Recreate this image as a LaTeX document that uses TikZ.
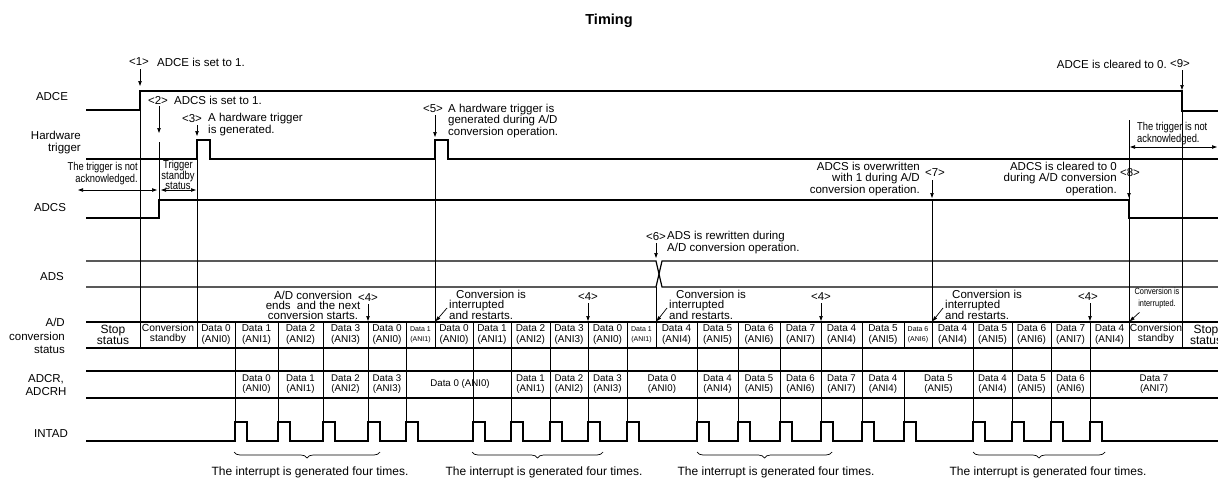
\documentclass[tikz,border=0pt]{standalone}
\usepackage{fontspec}
\setmainfont{Liberation Sans}
\newfontfamily\condfont[FakeStretch=0.82]{Liberation Sans}
\usetikzlibrary{arrows.meta,decorations.pathreplacing}
\newcommand{\tsize}[2]{\fontsize{#1}{#2}\selectfont}

\begin{document}
\begin{tikzpicture}[x=1pt,y=-1pt,
    >={Triangle[length=5pt,width=3.4pt]},
    wave/.style={line width=1.5pt},
    row/.style={line width=1.2pt},
    guide/.style={line width=0.7pt},
    sig/.style={inner sep=0pt,align=center,font=\tsize{11.5}{13.5}},
    note/.style={inner sep=0pt,font=\tsize{11.5}{11.5}},
    evt/.style={inner sep=0pt,font=\tsize{11.5}{11.5}},
    narrow/.style={inner sep=0pt,font=\condfont\tsize{11.4}{12}},
    cell/.style={inner sep=0pt,align=center,font=\tsize{10}{11}},
    tinycell/.style={inner sep=0pt,align=center,font=\tsize{7}{10}},
    regcell/.style={inner sep=0pt,align=center,font=\tsize{9.7}{10.5}},
    ann/.style={->,line width=0.7pt},
    twoway/.style={<->,line width=0.7pt},
    brc/.style={decorate,decoration={brace,mirror,amplitude=6pt},line width=0.7pt}
  ]
  \clip (0,0) rectangle (1218,479);
  \node[font=\bfseries\tsize{14.5}{14.5}] (title) at (609,21) {Timing};

  % signal names
  \node[sig] (nADCE) at (52,97) {ADCE};
  \node[sig,align=right,anchor=east,font=\tsize{11.5}{12}] (nHW) at (81,143) {Hardware\\trigger};
  \node[sig] (nADCS) at (50,208) {ADCS};
  \node[sig] (nADS) at (52,277) {ADS};
  \node[sig,align=right,anchor=east] (nSTAT) at (65,336) {A/D\\conversion\\status};
  \node[sig] (nADCR) at (46,385) {ADCR,\\ADCRH};
  \node[sig] (nINTAD) at (51,434) {INTAD};

  % waveforms
  \draw[wave] (86,110) -- (140,110) -- (140,91) -- (1182,91) -- (1182,111) -- (1230,111);
  \draw[wave] (86,159) -- (197,159) -- (197,140) -- (210,140) -- (210,159)
    -- (435,159) -- (435,140) -- (448,140) -- (448,159) -- (1230,159);
  \draw[wave] (86,218) -- (159,218) -- (159,200) -- (1129,200) -- (1129,218) -- (1230,218);
  \draw[row] (86,261) -- (656,261) -- (662,287) -- (1230,287);
  \draw[row] (86,287) -- (656,287) -- (662,261) -- (1230,261);
  \draw[row] (86,322) -- (1230,322) (86,348) -- (1230,348);
  \draw[row] (86,371) -- (1230,371) (86,398) -- (1230,398);
  \draw[wave] (86,441) foreach \p in {235,278,323,368,406,473,511,550,588,627,697,738,780,821,862,904,973,1012,1051,1090}
    {-- (\p,441) -- (\p,422) -- ({\p+12},422) -- ({\p+12},441)} -- (1230,441);

  % guide lines
  \draw[guide] (140,110) -- (140,348);
  \draw[guide] (159,142) -- (159,200);
  \draw[guide] (197,159) -- (197,348);
  \draw[guide] (435,159) -- (435,348);
  \draw[guide] (656,287) -- (656,322);
  \draw[guide] (932,200) -- (932,348);
  \draw[guide] (1129,120) -- (1129,348);
  \draw[guide] (1182,111) -- (1182,348);
  \foreach \b in {140,197,235,278,323,368,406,435,473,511,550,588,627,656,697,738,780,821,862,904,932,973,1012,1051,1090,1129,1182}
    \draw[guide] (\b,322) -- (\b,348);
  \foreach \p in {235,278,323,368,406,473,511,550,588,627,697,738,780,821,862,973,1012,1051,1090}
    \draw[guide] (\p,348) -- (\p,441);
  \draw[guide] (904,371) -- (904,441);

  % A/D conversion status
  \node[cell,font=\tsize{12}{11.5}] (stStop) at (113,335) {Stop\\status};
  \node[cell,font=\tsize{10.3}{10}] (stWait) at (168,334) {Conversion\\standby};
  \foreach \l/\r/\d [count=\i] in {197/235/0,235/278/1,278/323/2,323/368/3,368/406/0,435/473/0,473/511/1,
      511/550/2,550/588/3,588/627/0,656/697/4,697/738/5,738/780/6,780/821/7,821/862/4,862/904/5,
      932/973/4,973/1012/5,1012/1051/6,1051/1090/7,1090/1129/4}
    \node[cell] (st\i) at ({(\l+\r)/2},335) {Data \d\\(ANI\d)};
  \foreach \l/\r/\d [count=\i] in {406/435/1,627/656/1,904/932/6}
    \node[tinycell] (sx\i) at ({(\l+\r)/2},335) {Data \d\\(ANI\d)};
  \node[cell,font=\tsize{10.3}{10}] (stWait2) at (1156,334) {Conversion\\standby};
  \node[cell,font=\tsize{12}{11.5}] (stStop2) at (1206,335) {Stop\\status};

  % ADCR, ADCRH
  \foreach \l/\r/\d [count=\i] in {235/278/0,278/323/1,323/368/2,368/406/3,511/550/1,550/588/2,588/627/3,
      627/697/0,697/738/4,738/780/5,780/821/6,821/862/7,862/904/4,904/973/5,973/1012/4,1012/1051/5,
      1051/1090/6,1090/1218/7}
    \node[regcell] (rg\i) at ({(\l+\r)/2},384) {Data \d\\(ANI\d)};
  \node[regcell] (rgLong) at (460,384) {Data 0 (ANI0)};

  % events
  \coordinate (adceOn) at (140,91);
  \coordinate (adcsHint) at (159,133);
  \coordinate (trigA) at (197,140);
  \coordinate (trigB) at (435,140);
  \coordinate (adsSwap) at (656,261);
  \coordinate (adcsRe) at (932,200);
  \coordinate (adcsOff) at (1129,200);
  \coordinate (adceOff) at (1182,91);

  \node[evt] (e1) at (139,62) {<1>};
  \node[note,anchor=west] (t1) at (157,62) {ADCE is set to 1.};
  \draw[ann,shorten <=3pt,shorten >=5pt] (e1.south -| adceOn) -- (adceOn);

  \node[evt] (e2) at (158,100) {<2>};
  \node[note,anchor=west] (t2) at (174,100) {ADCS is set to 1.};
  \draw[ann,shorten <=2pt] (e2.south -| adcsHint) -- (adcsHint);

  \node[evt] (e3) at (192,119) {<3>};
  \node[note,align=left,anchor=west,font=\tsize{11.5}{12}] (t3) at (208,125) {A hardware trigger\\is generated.};
  \draw[ann,shorten <=2pt,shorten >=4pt] (e3.south -| trigA) -- (trigA);

  \node[evt] (e5) at (433,109) {<5>};
  \node[note,align=left,anchor=west] (t5) at (448,121) {A hardware trigger is\\generated during A/D\\conversion operation.};
  \draw[ann,shorten <=2pt,shorten >=3pt] (e5.south -| trigB) -- (trigB);

  \node[evt] (e6) at (656,237) {<6>};
  \node[note,align=left,anchor=west,font=\tsize{11.5}{12}] (t6) at (667,243) {ADS is rewritten during\\A/D conversion operation.};
  \draw[ann,shorten <=2pt,shorten >=3pt] (e6.south -| adsSwap) -- (adsSwap);

  \node[note,align=right,anchor=east] (t7) at (920,179) {ADCS is overwritten\\with 1 during A/D\\conversion operation.};
  \node[evt] (e7) at (935,173) {<7>};
  \draw[ann,shorten <=3pt,shorten >=2pt] (e7.south -| adcsRe) -- (adcsRe);

  \node[note,align=right,anchor=east] (t8) at (1117,179) {ADCS is cleared to 0\\during A/D conversion\\operation.};
  \node[evt] (e8) at (1130,173) {<8>};
  \draw[ann,shorten <=3pt,shorten >=2pt] (e8.south -| adcsOff) -- (adcsOff);

  \node[note,anchor=east] (t9) at (1167,64) {ADCE is cleared to 0.};
  \node[evt] (e9) at (1180,64) {<9>};
  \draw[ann,shorten <=2pt,shorten >=1pt] (e9.south -| adceOff) -- (adceOff);

  % trigger acceptance
  \node[narrow,align=right,anchor=east] (noack1) at (138,174) {The trigger is not\\acknowledged.};
  \node[narrow,align=center,font=\condfont\tsize{11.5}{10}] (stby) at (178,175) {Trigger\\standby\\status};
  \node[narrow,align=left,anchor=west] (noack2) at (1137,134) {The trigger is not\\acknowledged.};
  \coordinate (naL) at (78,190);
  \coordinate (naR) at (157,190);
  \coordinate (sbL) at (161,190);
  \coordinate (sbR) at (196,190);
  \coordinate (nbL) at (1130,147);
  \coordinate (nbR) at (1217,147);
  \draw[twoway] (naL) -- (naR);
  \draw[twoway] (sbL) -- (sbR);
  \draw[twoway] (nbL) -- (nbR);

  % conversion ends / restarts
  \coordinate (endA) at (368,322);
  \coordinate (endB) at (588,322);
  \coordinate (endC) at (821,322);
  \coordinate (endD) at (1090,322);
  \node[note,align=center,font=\tsize{11.5}{10}] (t4) at (313,305) {A/D conversion\\ends\hspace{3pt} and the next\\conversion starts.};
  \node[evt] (e4a) at (368,298) {<4>};
  \node[evt] (e4b) at (588,297) {<4>};
  \node[evt] (e4c) at (821,297) {<4>};
  \node[evt] (e4d) at (1088,297) {<4>};
  \draw[ann,shorten <=2pt,shorten >=1pt] (e4a.south -| endA) -- (endA);
  \draw[ann,shorten <=2pt,shorten >=1pt] (e4b.south -| endB) -- (endB);
  \draw[ann,shorten <=2pt,shorten >=1pt] (e4c.south -| endC) -- (endC);
  \draw[ann,shorten <=2pt,shorten >=1pt] (e4d.south -| endD) -- (endD);

  \coordinate (cutA) at (435,322);
  \coordinate (cutB) at (656,322);
  \coordinate (cutC) at (932,322);
  \coordinate (cutD) at (1129,322);
  \node[note,align=left,anchor=west,font=\tsize{11.5}{10}] (r1) at (449,305) {\hspace{7pt}Conversion is\\interrupted\\and restarts.};
  \node[note,align=left,anchor=west,font=\tsize{11.5}{10}] (r2) at (669,305) {\hspace{7pt}Conversion is\\interrupted\\and restarts.};
  \node[note,align=left,anchor=west,font=\tsize{11.5}{10}] (r3) at (945,305) {\hspace{7pt}Conversion is\\interrupted\\and restarts.};
  \node[narrow,align=center,font=\condfont\tsize{9}{12}] (r4) at (1157,298) {Conversion is\\interrupted.};
  \draw[ann,shorten >=1pt] ([shift={(-2,3)}]r1.west) -- (cutA);
  \draw[ann,shorten >=1pt] ([shift={(-2,3)}]r2.west) -- (cutB);
  \draw[ann,shorten >=1pt] ([shift={(-2,3)}]r3.west) -- (cutC);
  \draw[ann,shorten >=1pt] ([shift={(5,4)}]r4.south west) -- (cutD);

  % interrupt groups
  \draw[brc] (234,452) -- (380,452);
  \draw[brc] (472,452) -- (603,452);
  \draw[brc] (697,452) -- (832,452);
  \draw[brc] (973,452) -- (1105,452);
  \node[note,font=\tsize{12}{12}] (g1) at (310,472) {The interrupt is generated four times.};
  \node[note,font=\tsize{12}{12}] (g2) at (544,472) {The interrupt is generated four times.};
  \node[note,font=\tsize{12}{12}] (g3) at (776,472) {The interrupt is generated four times.};
  \node[note,font=\tsize{12}{12}] (g4) at (1048,472) {The interrupt is generated four times.};
\end{tikzpicture}
\end{document}
